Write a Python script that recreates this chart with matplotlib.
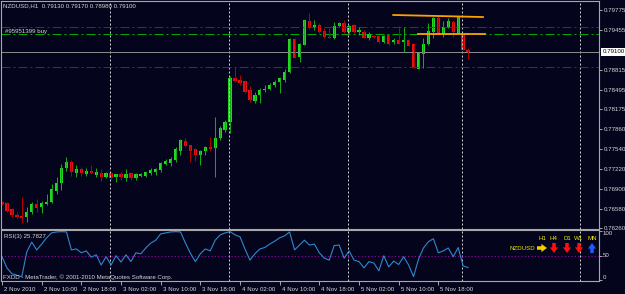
import numpy as np
import matplotlib
matplotlib.use("Agg")
import matplotlib.pyplot as plt
from matplotlib.patches import FancyArrowPatch
from matplotlib.transforms import ScaledTranslation, blended_transform_factory

# ---- data (H1 bars, 2 Nov 2010 02:00 onwards) ----
title = "NZDUSD,H1  0.79130 0.79170 0.78980 0.79100"
opens = [
    0.76686, 0.76670, 0.76573, 0.76476, 0.76460, 0.76444, 0.76525, 0.76654, 0.76605, 0.76654,
    0.76686, 0.76863, 0.76992, 0.77233, 0.77330, 0.77153, 0.77217, 0.77137, 0.77185, 0.77120,
    0.77153, 0.77088, 0.77153, 0.77088, 0.77137, 0.77072, 0.77153, 0.77072, 0.77104, 0.77104,
    0.77153, 0.77169, 0.77201, 0.77297, 0.77314, 0.77362, 0.77506, 0.77667, 0.77603, 0.77539,
    0.77442, 0.77506, 0.77571, 0.77555, 0.77715, 0.77844, 0.77973, 0.78681, 0.78649, 0.78633,
    0.78488, 0.78311, 0.78408, 0.78488, 0.78504, 0.78569, 0.78617, 0.78649, 0.78778, 0.79308,
    0.79018, 0.79211, 0.79598, 0.79501, 0.79534, 0.79437, 0.79340, 0.79324, 0.79518, 0.79566,
    0.79421, 0.79534, 0.79421, 0.79421, 0.79324, 0.79357, 0.79357, 0.79260, 0.79373, 0.79260,
    0.79292, 0.79260, 0.79292, 0.79228, 0.78826, 0.79067, 0.79228, 0.79421, 0.79646, 0.79389,
    0.79501, 0.79582, 0.79405, 0.79373, 0.79130]
highs = [
    0.76702, 0.76686, 0.76589, 0.76525, 0.76766, 0.76605, 0.76686, 0.76734, 0.76702, 0.76815,
    0.76976, 0.77088, 0.77297, 0.77410, 0.77362, 0.77281, 0.77249, 0.77233, 0.77281, 0.77233,
    0.77217, 0.77169, 0.77169, 0.77137, 0.77169, 0.77217, 0.77169, 0.77153, 0.77153, 0.77169,
    0.77233, 0.77233, 0.77330, 0.77378, 0.77410, 0.77571, 0.77699, 0.77715, 0.77603, 0.77555,
    0.77522, 0.77587, 0.77731, 0.78053, 0.77908, 0.78005, 0.78713, 0.78858, 0.78729, 0.78633,
    0.78552, 0.78456, 0.78520, 0.78569, 0.78601, 0.78649, 0.78681, 0.78826, 0.79324, 0.79324,
    0.79244, 0.79614, 0.79727, 0.79614, 0.79566, 0.79485, 0.79485, 0.79582, 0.79582, 0.79614,
    0.79534, 0.79550, 0.79501, 0.79453, 0.79421, 0.79373, 0.79373, 0.79373, 0.79389, 0.79324,
    0.79518, 0.79501, 0.79308, 0.79228, 0.79099, 0.79324, 0.79566, 0.79662, 0.79678, 0.79598,
    0.79646, 0.79614, 0.79678, 0.79389, 0.79170]
lows = [
    0.76638, 0.76525, 0.76444, 0.76428, 0.76348, 0.76364, 0.76493, 0.76525, 0.76509, 0.76638,
    0.76670, 0.76815, 0.76879, 0.77185, 0.77104, 0.77088, 0.77104, 0.77104, 0.77137, 0.77088,
    0.77024, 0.77072, 0.77056, 0.77008, 0.77040, 0.77024, 0.77040, 0.77040, 0.77088, 0.77088,
    0.77120, 0.77120, 0.77169, 0.77281, 0.77265, 0.77330, 0.77442, 0.77571, 0.77330, 0.77346,
    0.77281, 0.77442, 0.77506, 0.77088, 0.77683, 0.77812, 0.77796, 0.78617, 0.78569, 0.78440,
    0.78295, 0.78279, 0.78279, 0.78456, 0.78488, 0.78536, 0.78440, 0.78617, 0.78762, 0.79002,
    0.78938, 0.79211, 0.79469, 0.79453, 0.79405, 0.79324, 0.79324, 0.79308, 0.79501, 0.79405,
    0.79405, 0.79405, 0.79373, 0.79324, 0.79292, 0.79324, 0.79244, 0.79244, 0.79211, 0.79228,
    0.79228, 0.79099, 0.79196, 0.78842, 0.78826, 0.78842, 0.79211, 0.79324, 0.79373, 0.79340,
    0.79485, 0.79340, 0.79389, 0.79131, 0.78980]
closes = [
    0.76654, 0.76541, 0.76476, 0.76444, 0.76428, 0.76525, 0.76654, 0.76589, 0.76670, 0.76686,
    0.76895, 0.76992, 0.77233, 0.77330, 0.77169, 0.77217, 0.77153, 0.77185, 0.77153, 0.77169,
    0.77088, 0.77153, 0.77072, 0.77137, 0.77088, 0.77137, 0.77072, 0.77137, 0.77137, 0.77169,
    0.77201, 0.77217, 0.77314, 0.77346, 0.77378, 0.77539, 0.77683, 0.77587, 0.77506, 0.77442,
    0.77506, 0.77571, 0.77539, 0.77715, 0.77876, 0.77973, 0.78681, 0.78633, 0.78601, 0.78456,
    0.78327, 0.78408, 0.78488, 0.78504, 0.78569, 0.78617, 0.78681, 0.78778, 0.79308, 0.79002,
    0.79228, 0.79614, 0.79485, 0.79534, 0.79421, 0.79340, 0.79324, 0.79518, 0.79566, 0.79421,
    0.79518, 0.79421, 0.79453, 0.79324, 0.79389, 0.79340, 0.79260, 0.79357, 0.79228, 0.79292,
    0.79228, 0.79292, 0.79196, 0.78842, 0.79099, 0.79228, 0.79437, 0.79646, 0.79405, 0.79501,
    0.79598, 0.79421, 0.79662, 0.79131, 0.79100]

rsi = [48, 25, 13, 10, 7, 58, 78, 62, 74, 87,
       97, 99, 99.6, 99, 62, 64, 56, 60, 47, 52,
       31, 48, 31, 50, 37, 52, 38, 56, 54, 66,
       76, 82, 95, 97, 99, 99.6, 99, 76, 55, 38,
       54, 64, 60, 82, 93, 97, 99.6, 93, 89, 64,
       41, 54, 64, 67, 74, 80, 87, 91, 99, 62,
       72, 82, 72, 74, 56, 45, 41, 71, 72, 45,
       60, 41, 38, 25, 38, 35, 19, 50, 27, 39,
       32, 48, 31, 7, 43, 66, 79, 85, 56, 60,
       66, 48, 67, 29, 25.78]
rsi_label = "RSI(3) 25.7827"

time_ticks = [0, 8, 16, 24, 32, 40, 48, 56, 64, 72, 80, 88]
time_labels = ["2 Nov 2010", "2 Nov 10:00", "2 Nov 18:00", "3 Nov 02:00", "3 Nov 10:00",
               "3 Nov 18:00", "4 Nov 02:00", "4 Nov 10:00", "4 Nov 18:00", "5 Nov 02:00",
               "5 Nov 10:00", "5 Nov 18:00"]
price_ticks = [0.79775, 0.79455, 0.78815, 0.78495, 0.78175, 0.77860, 0.77540,
               0.77220, 0.76900, 0.76580, 0.76260]
bid = 0.79100
separators = [21.8, 45.8, 69.8, 92.8, 116.6]

order_label = "#95951399 buy"
order_open = 0.79384
order_tp = 0.79497
order_sl = 0.78853
trend_upper = ([78.9, 97.0], [0.79695, 0.79662])
trend_lower = ([83.9, 97.4], [0.79389, 0.79389])

mtf_symbol = "NZDUSD"
mtf_frames = ["H1", "H4", "D1", "W1", "MN"]
mtf_signal = ["right", "down", "down", "down", "up"]
credits = "FXDD - MetaTrader, \u00a9 2001-2010 MetaQuotes Software Corp."

# ---- style ----
W, H = 625, 294
bg = "#04041c"
frame = "#a8a8a8"
txt = "#d8d8d8"
fs = 4.4
plt.rcParams['font.family'] = ['Liberation Sans', 'DejaVu Sans']

def fx(x):
    return x / W

def fy(y):
    return 1 - y / H

fig = plt.figure(figsize=(W / 100, H / 100), dpi=100, facecolor=bg)
ax = fig.add_axes([fx(1), fy(229), 598 / W, 228 / H])
ax2 = fig.add_axes([fx(1), fy(281), 598 / W, 51 / H], sharex=ax)

for a in (ax, ax2):
    a.set_facecolor(bg)
    for s in a.spines.values():
        s.set_color(frame)
        s.set_linewidth(0.8)
    for x in separators:
        a.axvline(x, color="#cfcfcf", lw=0.72, linestyle=(0, (2, 2)))

o = np.array(opens)
h = np.array(highs)
l = np.array(lows)
c = np.array(closes)
idx = np.arange(len(o))
up = c >= o
bottom = np.minimum(o, c)
height = np.maximum(np.abs(c - o), 0.00005)

# order lines and bid
ax.axhline(order_tp, color="#c00000", lw=0.72, linestyle=(0, (9, 3, 2, 3)))
ax.axhline(order_open, color="#00a800", lw=0.72, linestyle=(0, (9, 3, 2, 3)))
ax.axhline(order_sl, color="#c00000", lw=0.72, linestyle=(0, (9, 3, 2, 3)))
ax.axhline(bid, color="#8a8a8a", lw=0.72)

ax.vlines(idx[up], l[up], h[up], color="#14a814", lw=0.75)
ax.vlines(idx[~up], l[~up], h[~up], color="#b00000", lw=0.75)
ax.bar(idx[up], height[up], bottom=bottom[up], width=0.66, color="#22d822", linewidth=0)
ax.bar(idx[~up], height[~up], bottom=bottom[~up], width=0.66, color="#e41010", linewidth=0)

ax.plot(*trend_upper, color="#ffa000", lw=1.3)
ax.plot(*trend_lower, color="#ffa000", lw=1.3)

ax.set_xlim(-0.2, 120.4)
ax.set_ylim(0.76251, 0.79920)
ax.yaxis.tick_right()
ax.set_yticks(price_ticks)
ax.set_yticklabels([f"{p:.5f}" for p in price_ticks])
ax.tick_params(axis="y", colors=frame, labelcolor=txt, labelsize=fs, length=2.2, width=0.7, pad=1)
ax.tick_params(axis="x", bottom=False, labelbottom=False)
ax.annotate(f"{bid:.5f}", xy=(1, bid), xycoords=("axes fraction", "data"),
            xytext=(2.4, 0), textcoords="offset points", va="center", ha="left",
            fontsize=fs, color="black",
            bbox=dict(boxstyle="square,pad=0.2", fc="white", ec="none"))

fig.text(fx(3), fy(6), title, color=txt, fontsize=fs, va="center")
fig.text(fx(5), fy(31), order_label, color=txt, fontsize=fs, va="center")

# ---- RSI window ----
ax2.axhline(50, color="#a000b0", lw=0.8, linestyle=(0, (1, 2)))
ax2.plot(idx, rsi, color="#3286cc", lw=0.8)
ax2.set_ylim(-2, 103)
ax2.yaxis.tick_right()
ax2.set_yticks([0, 50, 100])
ax2.set_yticklabels([])
ax2.tick_params(axis="y", colors=frame, length=2.2, width=0.7)
tr = blended_transform_factory(ax2.transAxes, ax2.transData)
for val, lab, va in [(100, "100", "top"), (50, "50", "center"), (0, "0", "bottom")]:
    ax2.text(1.006, val, lab, transform=tr, fontsize=fs, color=txt, va=va, ha="left")

ax2.set_xticks(time_ticks)
ax2.set_xticklabels(time_labels, ha="left")
ax2.tick_params(axis="x", colors=frame, labelcolor=txt, labelsize=fs, length=3, width=0.7, pad=1)
shift = ScaledTranslation(2 / 100, 0, fig.dpi_scale_trans)
for lab in ax2.get_xticklabels():
    lab.set_transform(lab.get_transform() + shift)

fig.text(fx(4), fy(236.5), rsi_label, color=txt, fontsize=fs, va="center")
fig.text(fx(3), fy(277.5), credits, color=txt, fontsize=fs, va="center")

# multi-timeframe signal panel
frame_x = [542, 554, 567, 579, 592]
fig.text(fx(522), fy(248), mtf_symbol, color="#e8e800", fontsize=fs, ha="center", va="center")
arrow_col = {"right": "#f0d000", "down": "#ff1010", "up": "#1e5cff"}
yb = H - 248
for x, tf, sig in zip(frame_x, mtf_frames, mtf_signal):
    fig.text(fx(x), fy(238), tf, color="#e8e800", fontsize=fs, ha="center", va="center")
    if sig == "right":
        start, end = (x - 5, yb), (x + 5, yb)
    elif sig == "down":
        start, end = (x, yb + 5), (x, yb - 5)
    else:
        start, end = (x, yb - 5), (x, yb + 5)
    fig.add_artist(FancyArrowPatch(
        start, end, transform=None, shrinkA=0, shrinkB=0,
        arrowstyle="simple,head_length=0.45,head_width=0.65,tail_width=0.28",
        mutation_scale=9, color=arrow_col[sig], lw=0))

fig.savefig("out.png", dpi=100, facecolor=bg)
